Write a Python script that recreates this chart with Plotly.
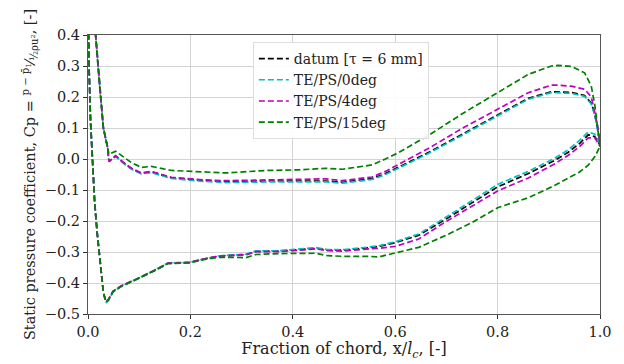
import plotly.graph_objects as go

# Suction-side chord positions (leading edge -> trailing edge)
x_ss = [0.0, 0.002, 0.005, 0.009, 0.013, 0.018, 0.024, 0.030, 0.035, 0.040, 0.049, 0.066,
        0.095, 0.114, 0.135, 0.156, 0.198, 0.231, 0.257, 0.309, 0.328, 0.374, 0.406, 0.445,
        0.468, 0.500, 0.549, 0.568, 0.600, 0.646, 0.698, 0.750, 0.800, 0.860, 0.912, 0.938,
        0.960, 0.977, 0.990, 1.000]
# Pressure-side chord positions (trailing edge -> leading edge)
x_ps = [1.000, 0.995, 0.990, 0.983, 0.970, 0.944, 0.918, 0.905, 0.860, 0.800, 0.730, 0.665,
        0.607, 0.581, 0.555, 0.497, 0.464, 0.412, 0.348, 0.270, 0.224, 0.163, 0.124, 0.104,
        0.085, 0.070, 0.054, 0.041, 0.038, 0.030, 0.022, 0.015, 0.010]

series_names = ["datum [τ = 6 mm]", "TE/PS/0deg", "TE/PS/4deg", "TE/PS/15deg"]

cp_ss_datum = [0.55, 0.30, 0.12, -0.02, -0.14, -0.24, -0.34, -0.43, -0.462, -0.455, -0.428, -0.410,
               -0.388, -0.373, -0.356, -0.337, -0.334, -0.321, -0.313, -0.308, -0.298, -0.297, -0.293, -0.288,
               -0.294, -0.294, -0.286, -0.282, -0.270, -0.246, -0.195, -0.141, -0.090, -0.047, -0.004, 0.022,
               0.050, 0.078, 0.072, 0.045]
cp_ps_datum = [0.048, 0.103, 0.143, 0.180, 0.205, 0.215, 0.217, 0.217, 0.196, 0.143, 0.079, 0.021,
               -0.027, -0.047, -0.063, -0.075, -0.071, -0.070, -0.071, -0.073, -0.069, -0.061, -0.042, -0.046,
               -0.031, -0.013, 0.009, -0.008, 0.04, 0.10, 0.25, 0.40, 0.50]

cp_ss_te0 = [0.55, 0.30, 0.12, -0.02, -0.14, -0.24, -0.34, -0.43, -0.464, -0.456, -0.428, -0.410,
             -0.388, -0.372, -0.355, -0.336, -0.333, -0.320, -0.312, -0.307, -0.296, -0.296, -0.291, -0.286,
             -0.292, -0.292, -0.284, -0.280, -0.267, -0.242, -0.189, -0.135, -0.082, -0.040, 0.003, 0.030,
             0.060, 0.087, 0.080, 0.050]
cp_ps_te0 = [0.050, 0.100, 0.140, 0.177, 0.202, 0.212, 0.214, 0.214, 0.193, 0.140, 0.076, 0.018,
             -0.030, -0.050, -0.066, -0.078, -0.074, -0.073, -0.074, -0.076, -0.072, -0.063, -0.044, -0.048,
             -0.033, -0.015, 0.008, -0.008, 0.04, 0.10, 0.25, 0.40, 0.50]

cp_ss_te4 = [0.55, 0.30, 0.12, -0.02, -0.14, -0.24, -0.34, -0.43, -0.460, -0.452, -0.426, -0.408,
             -0.387, -0.372, -0.355, -0.336, -0.333, -0.321, -0.313, -0.309, -0.299, -0.299, -0.295, -0.290,
             -0.296, -0.297, -0.290, -0.288, -0.282, -0.258, -0.203, -0.152, -0.103, -0.061, -0.015, 0.012,
             0.040, 0.068, 0.068, 0.040]
cp_ps_te4 = [0.045, 0.110, 0.150, 0.200, 0.225, 0.235, 0.238, 0.238, 0.214, 0.161, 0.098, 0.034,
             -0.019, -0.040, -0.058, -0.070, -0.064, -0.065, -0.067, -0.070, -0.067, -0.059, -0.040, -0.045,
             -0.030, -0.012, 0.011, -0.008, 0.04, 0.10, 0.25, 0.40, 0.50]

cp_ss_te15 = [0.55, 0.30, 0.12, -0.02, -0.14, -0.24, -0.34, -0.43, -0.462, -0.454, -0.427, -0.409,
              -0.388, -0.373, -0.356, -0.337, -0.335, -0.323, -0.317, -0.318, -0.308, -0.305, -0.304, -0.304,
              -0.312, -0.314, -0.314, -0.316, -0.303, -0.285, -0.247, -0.205, -0.157, -0.125, -0.085, -0.062,
              -0.042, -0.020, 0.008, 0.040]
cp_ps_te15 = [0.040, 0.108, 0.172, 0.235, 0.278, 0.299, 0.302, 0.300, 0.273, 0.214, 0.145, 0.076,
              0.021, 0.000, -0.019, -0.033, -0.030, -0.035, -0.037, -0.045, -0.042, -0.037, -0.024, -0.027,
              -0.012, 0.005, 0.025, 0.015, 0.04, 0.10, 0.25, 0.40, 0.50]

colors = ["#000000", "#00BFBF", "#BF00BF", "#008000"]
ss_data = [cp_ss_datum, cp_ss_te0, cp_ss_te4, cp_ss_te15]
ps_data = [cp_ps_datum, cp_ps_te0, cp_ps_te4, cp_ps_te15]

FONT = "DejaVu Serif"
fig = go.Figure()
for name, col, ss, ps in zip(series_names, colors, ss_data, ps_data):
    fig.add_trace(go.Scatter(
        x=x_ss + x_ps, y=ss + ps, mode="lines", name=name,
        line=dict(color=col, width=1.7, dash="6px,3px"),
    ))

fig.update_layout(
    width=624, height=364,
    margin=dict(l=88, r=22, t=35, b=45),
    paper_bgcolor="white", plot_bgcolor="white",
    font=dict(family=FONT, size=14, color="#222"),
    showlegend=True,
    legend=dict(
        x=0.322, y=0.975, xanchor="left", yanchor="top",
        bgcolor="rgba(255,255,255,0.9)", bordercolor="#dddddd", borderwidth=1,
        font=dict(family=FONT, size=14, color="#222"),
        tracegroupgap=0,
    ),
)
fig.update_xaxes(
    range=[0, 1], dtick=0.2, tick0=0, tickformat=".1f",
    showgrid=True, gridcolor="#d3d3d3", gridwidth=1,
    showline=True, linecolor="#555", linewidth=1.2, mirror=True,
    ticks="outside", ticklen=4, tickcolor="#333",
    zeroline=False,
    title=dict(text="Fraction of chord, x/<i>l</i><sub><i>c</i></sub>, [-]", standoff=1,
               font=dict(family=FONT, size=16)),
    tickfont=dict(family=FONT, size=14.5),
)
fig.update_yaxes(
    range=[-0.5, 0.4], dtick=0.1, tick0=0, tickformat=".1f",
    showgrid=True, gridcolor="#d3d3d3", gridwidth=1,
    showline=True, linecolor="#555", linewidth=1.2, mirror=True,
    ticks="outside", ticklen=4, tickcolor="#333",
    zeroline=False,
    title=dict(text="Static pressure coefficient, Cp = <sup>p − p̄<sub>1</sub></sup>⁄<sub>½ρu²</sub>, [-]",
               standoff=5, font=dict(family=FONT, size=14.5)),
    tickfont=dict(family=FONT, size=14.5),
)

fig.write_html("out.html")
